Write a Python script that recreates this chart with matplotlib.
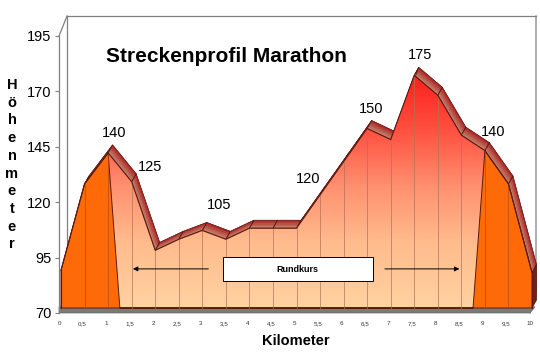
import numpy as np
import matplotlib
matplotlib.use('Agg')
import matplotlib.pyplot as plt
from matplotlib.patches import Polygon, Rectangle
from matplotlib.colors import LinearSegmentedColormap, to_rgb

plt.rcParams['font.family'] = ['Liberation Sans', 'DejaVu Sans']

# ---------------- data ----------------
km = [0, 0.5, 1, 1.5, 2, 2.5, 3, 3.5, 4, 4.5, 5, 5.5, 6, 6.5, 7, 7.5, 8, 8.5, 9, 9.5, 10]
hoehe = [87, 126, 140, 127, 96, 101, 105, 101, 106, 106, 106, 121, 136, 151, 146, 175, 166, 148, 141, 126, 86]
start_ziel = [87, 126, 140, 0, 0, 0, 0, 0, 0, 0, 0, 0, 0, 0, 0, 0, 0, 0, 141, 126, 86]
label_km = [1, 1.5, 3, 5.5, 6.5, 7.5, 9]
label_txt = ['140', '125', '105', '120', '150', '175', '140']
label_off_px = [(6, -20), (18, -15), (17, -25), (-12, -16), (4, -20), (6, -20), (8, -19)]
y_ticks = [70, 95, 120, 145, 170, 195]
x_tick_labels = ['0', '0,5', '1', '1,5', '2', '2,5', '3', '3,5', '4', '4,5', '5',
                 '5,5', '6', '6,5', '7', '7,5', '8', '8,5', '9', '9,5', '10']

# ---------------- figure ----------------
W, H = 540, 353
fig = plt.figure(figsize=(W / 100, H / 100), dpi=100)
ax = fig.add_axes([59 / W, 40 / H, 471 / W, 277 / H])
ax.set_xlim(0, 10)
ax.set_ylim(70, 195)
ax.set_facecolor('none')

PXX = 471 / 10.0      # pixels per km
PXY = 277 / 125.0     # pixels per metre
OX, OY = 2 / PXX, 5 / PXY          # series front plane offset
DX, DY = 4.5 / PXX, 8 / PXY        # series depth
WX, WY = 8 / PXX, 20 / PXY         # wall depth
BASE = 70 + OY

def front(x, v):
    return x + OX, v + OY

def clipped(xs, vs, floor):
    pts = []
    n = len(xs)
    for i in range(n):
        pts.append((xs[i], max(vs[i], floor)))
        if i < n - 1 and (vs[i] - floor) * (vs[i + 1] - floor) < 0:
            t = (floor - vs[i]) / (vs[i + 1] - vs[i])
            pts.append((xs[i] + t * (xs[i + 1] - xs[i]), floor))
    return pts

gray = '#808080'
# walls
ax.plot([0, WX], [195, 195 + WY], color=gray, lw=0.9, clip_on=False, zorder=0.5)
ax.plot([WX, 10 + 6 / PXX], [195 + WY, 195 + WY], color=gray, lw=0.9, clip_on=False, zorder=0.5)
ax.plot([10 + 6 / PXX, 10 + 6 / PXX, 10], [195 + WY, 79, 70],
        color=gray, lw=0.9, clip_on=False, zorder=0.5)
ax.plot([WX, WX], [195 + WY, 72], color=gray, lw=0.9, clip_on=False, zorder=0.5)

# floor
ax.add_patch(Polygon([(0, 70), (10, 70), (10 + 5 / PXX, BASE + 0.5), (0, BASE + 0.5)], closed=True,
                     facecolor='#7a7a7a', edgecolor='#6a6a6a', lw=0.5, clip_on=False, zorder=1))

# front coordinates of main series
fx = [front(x, v)[0] for x, v in zip(km, hoehe)]
fy = [front(x, v)[1] for x, v in zip(km, hoehe)]

# top faces (gradient tan front -> red back)
c_front = np.array(to_rgb('#c58a72'))
c_back = np.array(to_rgb('#a81c1c'))
N = 5
for i in range(len(km) - 1):
    p1 = np.array([fx[i], fy[i]]); p2 = np.array([fx[i + 1], fy[i + 1]])
    d = np.array([DX, DY])
    for k in range(N):
        a, b = k / N, (k + 1) / N
        col = c_front + (c_back - c_front) * (k + 0.5) / N
        ax.add_patch(Polygon([p1 + d * a, p2 + d * a, p2 + d * b, p1 + d * b], closed=True,
                             facecolor=col, edgecolor=col, lw=0.3, clip_on=False, zorder=2))
    ax.add_patch(Polygon([p1, p2, p2 + d, p1 + d], closed=True, facecolor='none',
                         edgecolor='#5a1a10', lw=0.5, clip_on=False, zorder=2.1))

# end cap at right
xe, ye = fx[-1], fy[-1]
ax.add_patch(Polygon([(xe, BASE), (xe, ye), (xe + DX, ye + DY), (xe + DX, BASE + DY)], closed=True,
                     facecolor='#7a1e12', edgecolor='#4a1008', lw=0.5, clip_on=False, zorder=2))

# main front face with vertical gradient
main_pts = list(zip(fx, fy)) + [(fx[-1], BASE), (fx[0], BASE)]
main_poly = Polygon(main_pts, closed=True, facecolor='none', edgecolor='none',
                    transform=ax.transData, clip_on=False)
ax.add_patch(main_poly)
cmap = LinearSegmentedColormap.from_list('grad', [
    (0.0, '#ffd2a2'), (0.27, '#ffbb8c'), (0.5, '#ff9070'), (0.73, '#ff5040'), (1.0, '#ff1616')])
grad = np.linspace(0, 1, 256).reshape(-1, 1)
im = ax.imshow(grad, cmap=cmap, extent=[fx[0], fx[-1], BASE, 180 + OY], origin='lower',
               aspect='auto', zorder=3, interpolation='bilinear')
im.set_clip_path(main_poly)
ax.set_xlim(0, 10)
ax.set_ylim(70, 195)

# orange start/finish series
opts = clipped(km, start_ziel, 70)
opts = [front(x, v) for x, v in opts]
opoly = opts + [(opts[-1][0], BASE), (opts[0][0], BASE)]
ax.add_patch(Polygon(opoly, closed=True, facecolor='#ff6a08', edgecolor='#5a1a10', lw=0.7,
                     clip_on=False, zorder=4))

# vertical drop lines
for x, v, s in zip(km[1:-1], hoehe[1:-1], start_ziel[1:-1]):
    X, Y = front(x, v)
    col = '#b04a10' if s > 70 else '#b0705a'
    ax.plot([X, X], [BASE, Y], color=col, lw=0.6, alpha=0.8, zorder=5, clip_on=False)

# outlines of main front face
ax.plot(fx, fy, color='#5a1a10', lw=0.8, zorder=6, clip_on=False)
ax.plot([fx[0], fx[0]], [BASE, fy[0]], color='#5a1a10', lw=0.8, zorder=6, clip_on=False)
ax.plot([fx[-1], fx[-1]], [BASE, fy[-1]], color='#5a1a10', lw=0.8, zorder=6, clip_on=False)

# data labels
for xk, t, (dxp, dyp) in zip(label_km, label_txt, label_off_px):
    i = km.index(xk)
    X, Y = front(xk, hoehe[i])
    ax.annotate(t, (X, Y), xytext=(dxp * 0.72, -dyp * 0.72), textcoords='offset points',
                ha='center', va='center', fontsize=10.5, color='black', zorder=7)

# Rundkurs box and arrows
ax.add_patch(Rectangle((3.48, 84.4), 3.19, 10.9, facecolor='white', edgecolor='black',
                       lw=0.7, zorder=7, clip_on=False))
ax.text(5.07, 89.6, 'Rundkurs', ha='center', va='center', fontsize=6.5, fontweight='bold', zorder=8)
ax.annotate('', xy=(1.51, 89.9), xytext=(3.23, 89.9),
            arrowprops=dict(arrowstyle='-|>', color='black', lw=0.7, mutation_scale=7), zorder=7)
ax.annotate('', xy=(8.56, 89.9), xytext=(6.86, 89.9),
            arrowprops=dict(arrowstyle='-|>', color='black', lw=0.7, mutation_scale=7), zorder=7)

# axes styling
for s in ['top', 'right', 'bottom']:
    ax.spines[s].set_visible(False)
ax.spines['left'].set_color(gray)
ax.spines['left'].set_linewidth(0.9)
ax.set_yticks(y_ticks)
ax.set_yticklabels([str(v) for v in y_ticks], fontsize=10.5)
ax.tick_params(axis='y', length=3, color=gray, pad=2.5)
ax.set_xticks(km)
ax.set_xticklabels(x_tick_labels, fontsize=4.5, color='#333333')
ax.tick_params(axis='x', length=0, pad=6)

# titles
fig.text(226 / W, 1 - 57 / H, 'Streckenprofil Marathon', ha='center', va='center',
         fontsize=15, fontweight='bold')
fig.text(296 / W, 1 - 341 / H, 'Kilometer', ha='center', va='center',
         fontsize=10.5, fontweight='bold')
for j, ch in enumerate('Höhenmeter'):
    fig.text(12 / W, 1 - (85 + j * 17.7) / H, ch, ha='center', va='center',
             fontsize=10.5, fontweight='bold')

fig.savefig('out.png', dpi=100)
